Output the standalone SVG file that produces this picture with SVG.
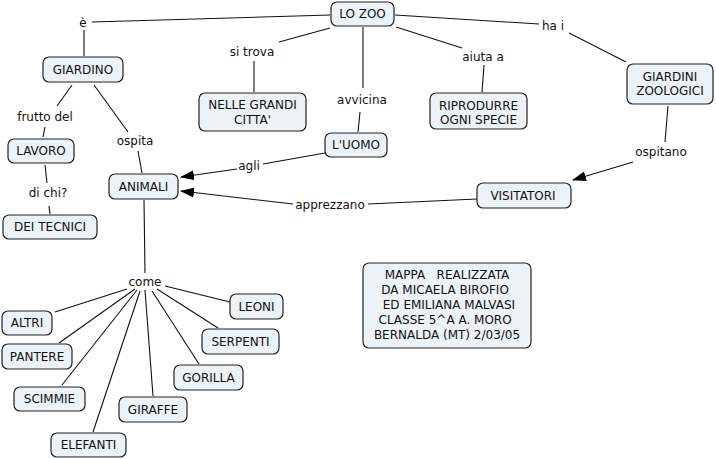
<svg xmlns="http://www.w3.org/2000/svg" width="716" height="459" viewBox="0 0 716 459">
<style>
.n{fill:#ecf2f5;stroke:#222;stroke-width:1.2}
text{font-family:"DejaVu Sans",Verdana,sans-serif;font-size:12px;fill:#111;text-anchor:middle}
.c line{stroke:#111;stroke-width:1.1}
.pre{white-space:pre}
</style>
<defs>
<marker id="ah" markerUnits="userSpaceOnUse" markerWidth="14" markerHeight="10" refX="13" refY="5" orient="auto">
<path d="M0,0 L14,5 L0,10 Z" fill="#000"/>
</marker>
</defs>
<rect width="716" height="459" fill="#fff"/>
<g class="c" id="connectors">
<line x1="330" y1="15" x2="92" y2="22"/>
<line x1="84" y1="30" x2="84" y2="56"/>
<line x1="330" y1="28" x2="279" y2="42"/>
<line x1="254" y1="61" x2="254" y2="92"/>
<line x1="363" y1="27" x2="363" y2="88"/>
<line x1="360" y1="112" x2="358" y2="132"/>
<line x1="396" y1="27" x2="462" y2="48"/>
<line x1="484" y1="65" x2="482" y2="92"/>
<line x1="395" y1="15" x2="539" y2="24"/>
<line x1="569" y1="33" x2="626" y2="62"/>
<line x1="668" y1="106" x2="665" y2="142"/>
<line x1="633" y1="162" x2="573" y2="180" marker-end="url(#ah)"/>
<line x1="72" y1="85" x2="57" y2="106"/>
<line x1="45" y1="127" x2="43" y2="137"/>
<line x1="94" y1="85" x2="128" y2="132"/>
<line x1="138" y1="151" x2="142" y2="173"/>
<line x1="45" y1="165" x2="47" y2="183"/>
<line x1="49" y1="206" x2="50" y2="214"/>
<line x1="325" y1="153" x2="263" y2="164"/>
<line x1="237" y1="169" x2="181" y2="177" marker-end="url(#ah)"/>
<line x1="477" y1="199" x2="368" y2="204"/>
<line x1="293" y1="204" x2="181" y2="191" marker-end="url(#ah)"/>
<line x1="144" y1="200" x2="145" y2="273"/>
<line x1="165" y1="286" x2="230" y2="302"/>
<line x1="157" y1="289" x2="218" y2="328"/>
<line x1="152" y1="291" x2="199" y2="364"/>
<line x1="145" y1="290" x2="153" y2="396"/>
<line x1="140" y1="291" x2="93" y2="432"/>
<line x1="137" y1="290" x2="62" y2="385"/>
<line x1="135" y1="289" x2="59" y2="343"/>
<line x1="127" y1="289" x2="55" y2="312"/>
</g>
<g id="labels">
<text x="83" y="27">è</text>
<text x="252" y="56">si trova</text>
<text x="362" y="104">avvicina</text>
<text x="483" y="61">aiuta a</text>
<text x="553" y="30">ha i</text>
<text x="45" y="121">frutto del</text>
<text x="135" y="145">ospita</text>
<text x="48" y="197">di chi?</text>
<text x="249" y="170">agli</text>
<text x="330" y="209">apprezzano</text>
<text x="661" y="156">ospitano</text>
<text x="145" y="286">come</text>
</g>
<g id="lozoo"><rect class="n" x="331" y="2" width="63" height="24" rx="6"/><text x="362.5" y="18">LO ZOO</text></g>
<g id="giardino"><rect class="n" x="43" y="57" width="80" height="25" rx="6"/><text x="83" y="74">GIARDINO</text></g>
<g id="nelle"><rect class="n" x="199" y="93" width="107" height="38" rx="6"/><text x="252.5" y="109">NELLE GRANDI</text><text x="252.5" y="124">CITTA'</text></g>
<g id="luomo"><rect class="n" x="325" y="133" width="62" height="24" rx="6"/><text x="356" y="149">L'UOMO</text></g>
<g id="riprodurre"><rect class="n" x="430" y="93" width="97" height="36" rx="6"/><text x="478.5" y="110">RIPRODURRE</text><text x="478.5" y="124">OGNI SPECIE</text></g>
<g id="giardini"><rect class="n" x="627" y="64" width="86" height="40" rx="6"/><text x="670" y="81">GIARDINI</text><text x="670" y="95">ZOOLOGICI</text></g>
<g id="lavoro"><rect class="n" x="8" y="139" width="66" height="24" rx="6"/><text x="41" y="155">LAVORO</text></g>
<g id="animali"><rect class="n" x="109" y="174" width="69" height="25" rx="6"/><text x="143.5" y="191">ANIMALI</text></g>
<g id="tecnici"><rect class="n" x="3" y="215" width="94" height="24" rx="6"/><text x="50" y="231">DEI TECNICI</text></g>
<g id="visitatori"><rect class="n" x="477" y="183" width="94" height="25" rx="6"/><text x="523" y="200">VISITATORI</text></g>
<g id="mappa"><rect class="n" x="363" y="263" width="168" height="85" rx="6"/>
<text class="pre" x="447" y="279">MAPPA   REALIZZATA</text>
<text class="pre" x="447" y="294">DA MICAELA BIROFIO </text>
<text class="pre" x="447" y="309"> ED EMILIANA MALVASI</text>
<text class="pre" x="447" y="324">CLASSE 5^A A. MORO </text>
<text class="pre" x="447" y="339">BERNALDA (MT) 2/03/05</text></g>
<g id="altri"><rect class="n" x="2" y="311" width="50" height="24" rx="6"/><text x="27" y="327">ALTRI</text></g>
<g id="pantere"><rect class="n" x="2" y="344" width="70" height="25" rx="6"/><text x="37" y="361">PANTERE</text></g>
<g id="scimmie"><rect class="n" x="14" y="387" width="71" height="24" rx="6"/><text x="49.5" y="403">SCIMMIE</text></g>
<g id="elefanti"><rect class="n" x="51" y="433" width="75" height="24" rx="6"/><text x="88.5" y="449">ELEFANTI</text></g>
<g id="giraffe"><rect class="n" x="119" y="397" width="68" height="25" rx="6"/><text x="153" y="414">GIRAFFE</text></g>
<g id="gorilla"><rect class="n" x="174" y="365" width="69" height="25" rx="6"/><text x="208.5" y="382">GORILLA</text></g>
<g id="serpenti"><rect class="n" x="202" y="329" width="77" height="25" rx="6"/><text x="240.5" y="346">SERPENTI</text></g>
<g id="leoni"><rect class="n" x="230" y="294" width="53" height="25" rx="6"/><text x="256.5" y="311">LEONI</text></g>
</svg>
